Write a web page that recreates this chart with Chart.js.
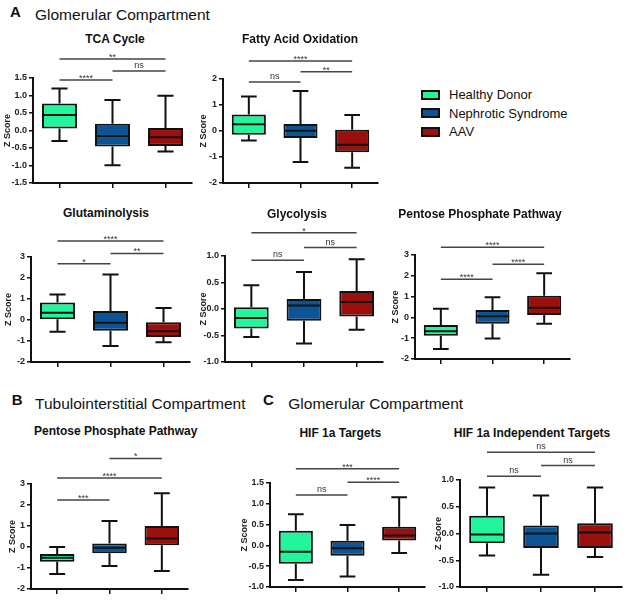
<!DOCTYPE html>
<html>
<head>
<meta charset="utf-8">
<script src="https://cdn.jsdelivr.net/npm/chart.js@4"></script>
<style>
  body { margin: 0; background: #fff; width: 628px; height: 600px; position: relative; overflow: hidden;
         font-family: "Liberation Sans", Arial, sans-serif; color: #111; }
  .t { position: absolute; white-space: nowrap; }
  .hd { font-size: 15.5px; line-height: 18px; }
  .lt { font-size: 15px; line-height: 18px; font-weight: bold; }
  .ct { font-size: 12px; line-height: 14px; font-weight: bold; width: 300px; text-align: center; }
  .lg { font-size: 13px; line-height: 15px; }
  .sw { position: absolute; width: 15px; height: 6px; border: 2px solid #111; }
  canvas { position: absolute; }
</style>
</head>
<body>

<div class="t lt" style="left:10px;top:3.1px">A</div>
<div class="t hd" style="left:35px;top:6.3px">Glomerular Compartment</div>
<div class="t lt" style="left:11.7px;top:390.8px">B</div>
<div class="t hd" style="left:35px;top:395px">Tubulointerstitial Compartment</div>
<div class="t lt" style="left:263px;top:390.8px">C</div>
<div class="t hd" style="left:288.3px;top:395.3px">Glomerular Compartment</div>

<div class="sw" style="left:421px;top:90px;background:#22f59b"></div>
<div class="t lg" style="left:449px;top:87.3px">Healthy Donor</div>
<div class="sw" style="left:421px;top:108.3px;background:#0d5495"></div>
<div class="t lg" style="left:449px;top:105.7px">Nephrotic Syndrome</div>
<div class="sw" style="left:421px;top:126.7px;background:#9b0f0c"></div>
<div class="t lg" style="left:449px;top:124px">AAV</div>

<script>
const groups = ['Healthy Donor', 'Nephrotic Syndrome', 'AAV'];
const groupColors = ['#22f59b', '#0d5495', '#9b0f0c'];

// each box: [min, q1, median, q3, max]; each sig: [from, to, y value, label]
const tcaBoxes = [[-0.30, 0.06, 0.44, 0.77, 1.20], [-0.99, -0.46, -0.16, 0.19, 0.87], [-0.60, -0.44, -0.19, 0.07, 0.99]];
const tcaSig = [[0, 2, 2.04, '**'], [1, 2, 1.70, 'ns'], [0, 1, 1.44, '****']];
const tcaTicks = [-1.5, 1.5, 0.5];

const faoBoxes = [[-0.37, -0.14, 0.26, 0.63, 1.33], [-1.19, -0.27, 0.01, 0.27, 1.54], [-1.41, -0.82, -0.53, 0.05, 0.62]];
const faoSig = [[0, 2, 2.69, '****'], [1, 2, 2.28, '**'], [0, 1, 1.88, 'ns']];
const faoTicks = [-2, 2, 1];

const glutBoxes = [[-0.56, 0.03, 0.35, 0.83, 1.22], [-1.24, -0.51, -0.13, 0.43, 2.17], [-1.06, -0.81, -0.54, -0.11, 0.57]];
const glutSig = [[0, 2, 3.76, '****'], [1, 2, 3.17, '**'], [0, 1, 2.68, '*']];
const glutTicks = [-2, 3, 1];

const glycBoxes = [[-0.53, -0.37, -0.17, 0.035, 0.45], [-0.65, -0.22, 0.066, 0.19, 0.70], [-0.39, -0.14, 0.13, 0.34, 0.94]];
const glycSig = [[0, 2, 1.44, '*'], [1, 2, 1.16, 'ns'], [0, 1, 0.92, 'ns']];
const glycTicks = [-1, 1, 0.5];

const pppABoxes = [[-1.52, -0.88, -0.67, -0.37, 0.42], [-1.01, -0.30, 0.05, 0.35, 0.97], [-0.30, 0.11, 0.46, 1.04, 2.12]];
const pppASig = [[0, 2, 3.37, '****'], [1, 2, 2.55, '****'], [0, 1, 1.83, '****']];
const pppATicks = [-2, 3, 1];

const pppBBoxes = [[-1.29, -0.70, -0.51, -0.33, 0.0], [-0.90, -0.30, -0.03, 0.17, 1.24], [-1.14, 0.08, 0.41, 1.0, 2.56]];
const pppBSig = [[1, 2, 4.22, '*'], [0, 2, 3.29, '****'], [0, 1, 2.24, '***']];
const pppBTicks = [-2, 3, 1];

const hifBoxes = [[-0.83, -0.44, -0.15, 0.35, 0.75], [-0.75, -0.25, -0.07, 0.11, 0.49], [-0.18, 0.12, 0.24, 0.45, 1.16]];
const hifSig = [[0, 2, 1.84, '***'], [1, 2, 1.52, '****'], [0, 1, 1.21, 'ns']];
const hifTicks = [-1, 1.5, 0.5];

const hifIndBoxes = [[-0.41, -0.18, -0.02, 0.33, 0.86], [-0.77, -0.27, 0.0, 0.15, 0.71], [-0.44, -0.27, 0.02, 0.19, 0.86]];
const hifIndSig = [[0, 2, 1.52, 'ns'], [1, 2, 1.27, 'ns'], [0, 1, 1.07, 'ns']];
const hifIndTicks = [-1, 1, 0.5];

const panels = [
  {title: 'TCA Cycle', tx: 115, tb: 42.7, boxes: tcaBoxes, sig: tcaSig, ticks: tcaTicks, dec: 1, ax: 33, top: 78, bottom: 183, xEnd: 192, yw: 31},
  {title: 'Fatty Acid Oxidation', tx: 300, tb: 42.7, boxes: faoBoxes, sig: faoSig, ticks: faoTicks, dec: 0, ax: 223, top: 79, bottom: 183, xEnd: 378, yw: 25},
  {title: 'Glutaminolysis', tx: 106, tb: 217.3, boxes: glutBoxes, sig: glutSig, ticks: glutTicks, dec: 0, ax: 31, top: 257, bottom: 362, xEnd: 190, yw: 28},
  {title: 'Glycolysis', tx: 297, tb: 217.7, boxes: glycBoxes, sig: glycSig, ticks: glycTicks, dec: 1, ax: 225, top: 256, bottom: 362, xEnd: 383, yw: 27},
  {title: 'Pentose Phosphate Pathway', tx: 480, tb: 217.7, boxes: pppABoxes, sig: pppASig, ticks: pppATicks, dec: 0, ax: 415, top: 255, bottom: 359, xEnd: 570, yw: 25},
  {title: 'Pentose Phosphate Pathway', tx: 115.7, tb: 435.3, boxes: pppBBoxes, sig: pppBSig, ticks: pppBTicks, dec: 0, ax: 31, top: 484, bottom: 589, xEnd: 188, yw: 24},
  {title: 'HIF 1a Targets', tx: 340.3, tb: 437.3, boxes: hifBoxes, sig: hifSig, ticks: hifTicks, dec: 1, ax: 270, top: 483, bottom: 587, xEnd: 425, yw: 31},
  {title: 'HIF 1a Independent Targets', tx: 532, tb: 437.3, boxes: hifIndBoxes, sig: hifIndSig, ticks: hifIndTicks, dec: 1, ax: 460, top: 480, bottom: 587, xEnd: 622, yw: 27}
];

// whiskers, medians and significance brackets, placed through the chart's scales
const boxPlot = {
  id: 'boxPlot',
  afterDatasetsDraw(chart, args, opts) {
    const {ctx, scales: {x, y}} = chart;
    const bars = chart.getDatasetMeta(0).data;
    ctx.save();
    ctx.strokeStyle = '#111';
    ctx.lineWidth = 2;
    ctx.beginPath();
    opts.boxes.forEach((b, i) => {
      const cx = bars[i].x, hw = bars[i].width / 2, cap = bars[i].width * 0.23;
      const [mn, q1, md, q3, mx] = b.map(v => y.getPixelForValue(v));
      ctx.moveTo(cx, q3); ctx.lineTo(cx, mx);
      ctx.moveTo(cx - cap, mx); ctx.lineTo(cx + cap, mx);
      ctx.moveTo(cx, q1); ctx.lineTo(cx, mn);
      ctx.moveTo(cx - cap, mn); ctx.lineTo(cx + cap, mn);
      ctx.moveTo(cx - hw + 1, md); ctx.lineTo(cx + hw - 1, md);
    });
    ctx.stroke();

    ctx.strokeStyle = '#444';
    ctx.lineWidth = 1.5;
    ctx.fillStyle = '#333';
    ctx.font = '9px "Liberation Sans", Arial, sans-serif';
    ctx.textAlign = 'center';
    ctx.textBaseline = 'alphabetic';
    opts.sig.forEach(([a, b, v, label]) => {
      const py = y.getPixelForValue(v);
      const x1 = x.getPixelForValue(a), x2 = x.getPixelForValue(b);
      ctx.beginPath();
      ctx.moveTo(x1, py); ctx.lineTo(x2, py);
      ctx.stroke();
      ctx.fillText(label, (x1 + x2) / 2, label.includes('*') ? py + 1 : py - 3);
    });
    ctx.restore();
  }
};

panels.forEach(p => {
  const title = document.createElement('div');
  title.className = 't ct';
  title.textContent = p.title;
  title.style.left = (p.tx - 150) + 'px';
  title.style.top = (p.tb - 11.2) + 'px';
  document.body.appendChild(title);

  const padTop = 40, xh = 8;
  const left = p.ax - p.yw, top = p.top - padTop;
  const cv = document.createElement('canvas');
  cv.width = p.xEnd - left + 3;
  cv.height = p.bottom - top + xh + 2;
  cv.style.left = left + 'px';
  cv.style.top = top + 'px';
  document.body.appendChild(cv);

  new Chart(cv, {
    type: 'bar',
    data: {
      labels: groups,
      datasets: [{
        data: p.boxes.map(b => [b[1], b[3]]),
        backgroundColor: groupColors,
        borderColor: '#111',
        borderWidth: 2,
        borderSkipped: false,
        barPercentage: 0.66,
        categoryPercentage: 1
      }]
    },
    options: {
      responsive: false,
      animation: false,
      events: [],
      layout: {padding: {left: 0, right: 3, top: padTop, bottom: 2}},
      plugins: {
        legend: {display: false},
        tooltip: {enabled: false},
        boxPlot: {boxes: p.boxes, sig: p.sig}
      },
      scales: {
        x: {
          grid: {offset: false, drawOnChartArea: false, color: '#111', lineWidth: 1.5, tickLength: 5},
          border: {color: '#111', width: 2},
          ticks: {display: false},
          afterFit(s) { s.height = xh; s.paddingLeft = 0; s.paddingRight = 0; }
        },
        y: {
          min: p.ticks[0],
          max: p.ticks[1],
          ticks: {
            stepSize: p.ticks[2],
            color: '#222',
            padding: 2,
            font: {size: 9, weight: 'bold', family: '"Liberation Sans", Arial, sans-serif'},
            callback: v => Number(v).toFixed(p.dec)
          },
          grid: {drawOnChartArea: false, color: '#111', lineWidth: 1.5, tickLength: 4},
          border: {color: '#111', width: 2},
          title: {
            display: true,
            text: 'Z Score',
            color: '#222',
            padding: 0,
            font: {size: 9, weight: 'bold', family: '"Liberation Sans", Arial, sans-serif'}
          },
          afterFit(s) { s.width = p.yw; s.paddingTop = 0; s.paddingBottom = 0; }
        }
      }
    },
    plugins: [boxPlot]
  });
});
</script>
</body>
</html>
